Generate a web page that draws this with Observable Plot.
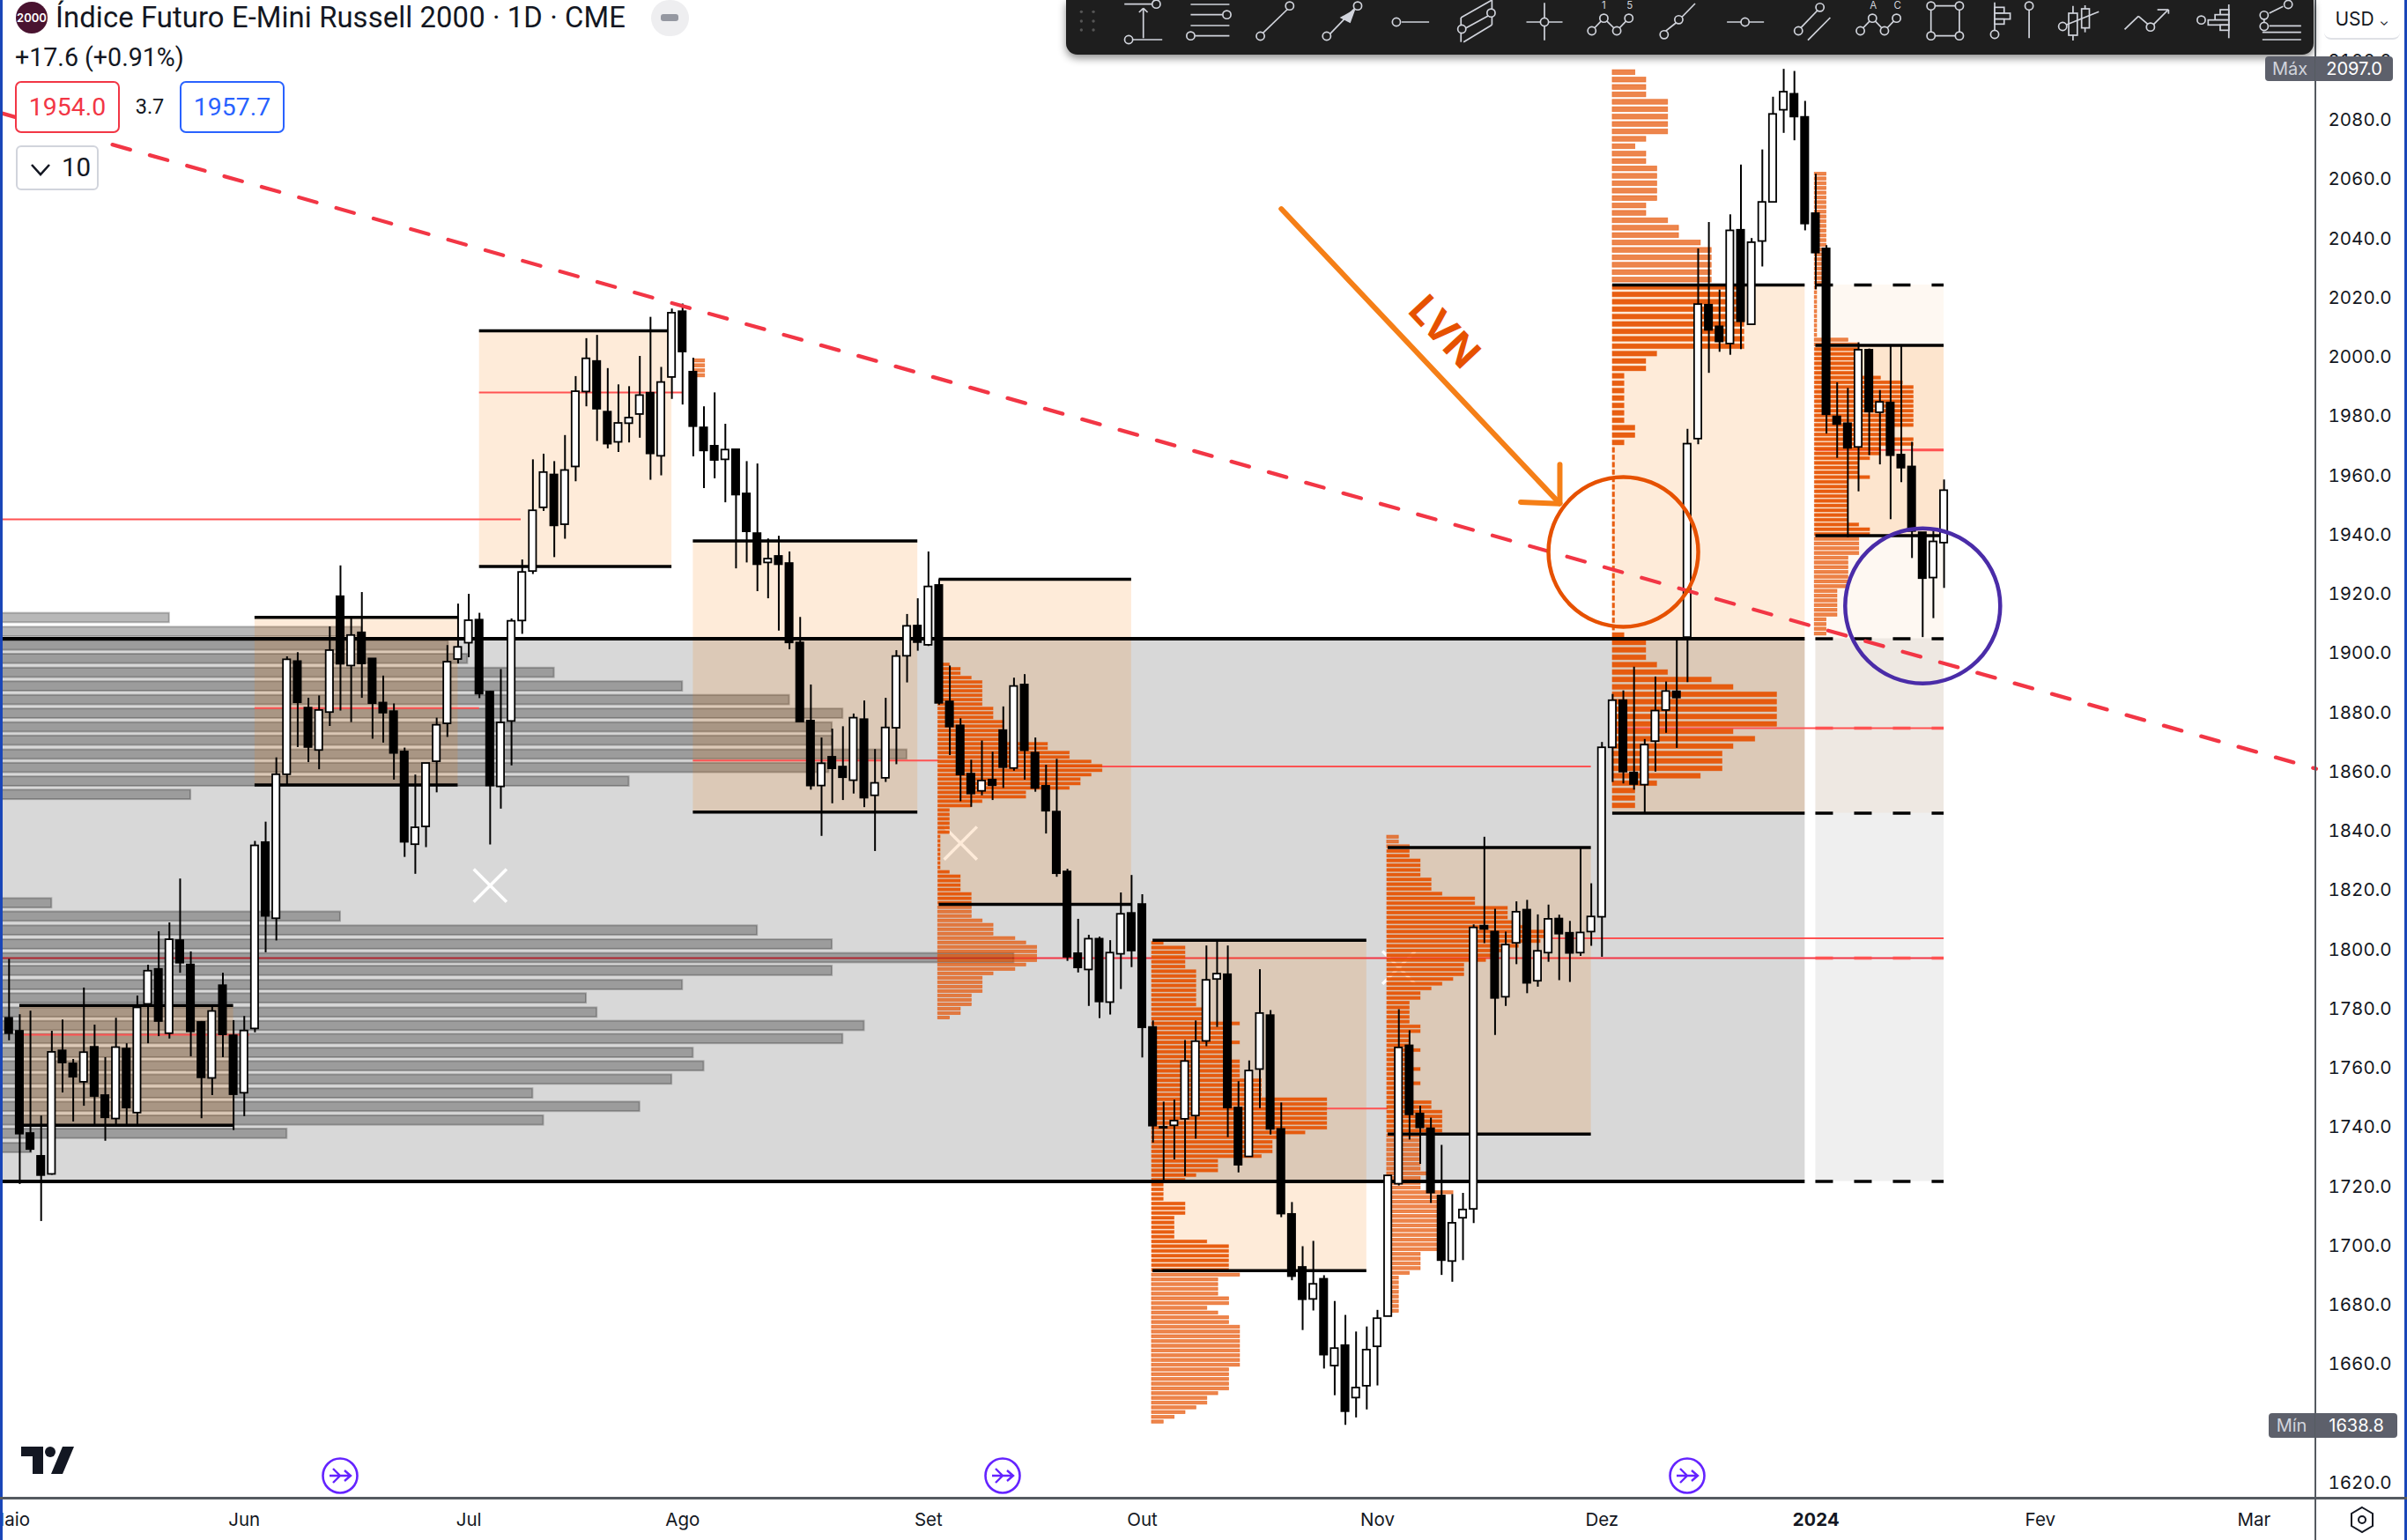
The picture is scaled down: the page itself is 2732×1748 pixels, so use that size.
<!DOCTYPE html>
<html><head><meta charset="utf-8">
<script src="https://cdn.jsdelivr.net/npm/d3@7"></script>
<script src="https://cdn.jsdelivr.net/npm/@observablehq/plot@0.6"></script>
<style>
html,body{margin:0;padding:0;background:#fff;overflow:hidden}
#page{position:relative;width:2732px;height:1748px;overflow:hidden;font-family:Inter,Roboto,sans-serif;color:#131722}
#chart svg{display:block;max-width:none}
.ov{position:absolute;white-space:nowrap}
</style></head><body><div id="page"><div id="chart"></div></div>
<script>
const bodyTop=[
1776.6,1772.2,1737.7,1730,1765.1,1765.6,1761.2,1765,1766.8,1750.5,
1766.7,1766.2,1780.1,1792.5,1793.1,1803.1,1802.8,1794.6,1775.2,1778.9,
1787.6,1770.7,1772.3,1834.8,1835.9,1858.8,1897.6,1897,1881.3,1880.5,
1900.7,1918.9,1905.8,1906.7,1897.9,1883,1880.1,1866.5,1840.9,1862.6,
1875.5,1896.8,1901.8,1910.8,1911,1886.7,1876.3,1910.6,1927.1,1947.9,
1960.8,1960,1961.5,1988.1,1999.2,1998.3,1981.2,1977.4,1979.2,1986.8,
1987.6,1991.2,2014.6,2015.1,1994.7,1975.9,1969.7,1968.4,1968.5,1953.6,
1940.2,1931.6,1932.5,1930.1,1903.3,1876.9,1862.5,1864.7,1861.4,1877.9,
1877.4,1855.9,1874.6,1898.7,1908.9,1909,1922.2,1922.7,1883.4,1875.3,
1859,1856.7,1857,1873.7,1888.6,1889.1,1866.1,1854.9,1846.2,1826,
1798.4,1803.3,1803.3,1798.6,1811.7,1812,1815,1773.5,1739.8,1741.9,
1762,1768.7,1789.4,1791.5,1791.3,1746.3,1758.8,1778.2,1777.5,1739.1,
1710.4,1692.5,1686.8,1688.5,1665.1,1666.1,1651.8,1664.6,1675.2,1723.4,
1766.6,1767.3,1744.3,1739.3,1716.6,1707.4,1711.9,1807.1,1807.7,1805.7,
1801.3,1812.4,1813.1,1799.2,1810,1810.1,1805.3,1805.4,1810.8,1867.9,
1883.8,1883.8,1859.4,1868.8,1880.3,1886.9,1886.8,1970.4,2017.5,2017.3,
2010,2042.4,2042.6,2038.4,2052,2081.7,2089.2,2088.5,2080.7,2048.2,
2036.3,1979.6,1977.3,2002.1,2002.1,1984.5,1984.3,1966.7,1962.7,1940.5,
1937.4,1954.7];
const bodyBottom=[
1771.4,1737.5,1732.3,1723.5,1723.9,1761.5,1756.7,1755,1750.2,1743,
1742.6,1746.3,1744.6,1781.3,1775.5,1771.4,1795.2,1772,1756.5,1756.3,
1771,1750.8,1751.3,1773,1811,1810.2,1858.8,1883.1,1868,1867,
1879.8,1896.1,1895.5,1896.2,1882.8,1879.6,1866,1836,1835.2,1841.2,
1863.2,1876,1897.7,1903.2,1886,1855,1854.7,1876.8,1910.7,1927.4,
1948.9,1942.8,1943.2,1962.7,1988,1982.2,1970.4,1971,1977.3,1980.4,
1967.1,1966.3,1992.9,2001.5,1976.3,1968.1,1964.9,1965.1,1953.2,1940.8,
1929.7,1930.3,1929.7,1903.3,1876.6,1855,1855,1860.8,1857.8,1856.8,
1850.9,1851.7,1857.6,1874.5,1898.8,1903.4,1902.5,1882.9,1874.9,1858.7,
1852.3,1853.2,1855.1,1861.2,1860.9,1866.9,1854.2,1846.5,1825.4,1797.2,
1793.6,1792.9,1782.1,1781.9,1798.2,1799.3,1773.4,1740.2,1739.5,1740.3,
1742.5,1743.6,1768.8,1789.7,1746.3,1727,1729.8,1759.3,1739.1,1710.5,
1689.4,1681.6,1681.7,1662.9,1659.2,1643.8,1648.4,1652.4,1665.7,1675.9,
1720.6,1744,1739.6,1717.6,1694.8,1694.5,1709.1,1712.1,1806.6,1783.3,
1783.7,1801.9,1788.4,1789.1,1798.6,1805,1798.5,1798.6,1805.7,1810.7,
1867.9,1859.7,1855.5,1855.3,1870,1880.5,1884.7,1905.1,1972.1,2008.8,
2004.9,2004.2,2011.7,2010.7,2038.8,2052,2083.1,2080.8,2044.7,2034.9,
1980.3,1977,1969,1969.3,1981.2,1981,1966.5,1962.3,1940.9,1925,
1925.2,1937];
const wickHigh=[
1796.5,1777.8,1779,1743.6,1772.2,1776,1762.7,1786.8,1774.3,1763.3,
1776.6,1768,1784.1,1794.5,1805.8,1808.8,1823.6,1799,1775.5,1780.3,
1791.8,1775.8,1777.2,1836.3,1842.8,1864.5,1898.6,1900,1884.6,1885.4,
1908.7,1929.3,1911.7,1920.3,1897.9,1892.1,1882.7,1867.8,1858.7,1862.6,
1877.9,1902.4,1916.4,1919.7,1913.3,1887,1894.3,1911.4,1931.3,1965.1,
1967,1964.5,1973.3,1993.2,2006,2007.1,1995.9,1990.4,1989.8,2000,
2013.2,1996.3,2016,2017.7,1999.4,1983,1987.7,1977.1,1968.5,1964.5,
1963.7,1938.4,1939.3,1934,1911.9,1889.1,1871.2,1874.2,1875,1879.3,
1883.7,1867.3,1884.6,1900.7,1912.9,1918.2,1934,1924.7,1895.5,1877.7,
1863.7,1870.2,1866.4,1881.7,1891.4,1892.6,1871.2,1862,1864,1826.9,
1810,1804.6,1804,1802.8,1818.9,1824.8,1818.3,1775.7,1748.3,1749,
1769.1,1775.7,1801,1802.9,1801,1755.2,1762.2,1793,1779.2,1748,
1714.4,1699.5,1701.3,1689.7,1681,1676.3,1670.7,1672.4,1678,1723.4,
1779.5,1772.4,1746.9,1742.9,1733.7,1717.1,1717.5,1808.1,1837.7,1813.4,
1805.7,1815.9,1816.4,1811.5,1814.8,1811.4,1809.3,1834,1822,1869.7,
1885.9,1887.1,1895.1,1870.7,1891.8,1890.1,1904.6,1975.4,2036.3,2045.2,
2022.4,2047.8,2064.6,2039.8,2069.7,2087.5,2096.9,2096.2,2086.1,2061.5,
2037.4,1991.1,1989.2,2004.6,2002.5,1988.5,2003.3,2003.3,1971,1940.5,
1940.9,1958.3];
const wickLow=[
1769,1720.5,1731.3,1708,1723.6,1751.4,1741.6,1746.9,1739.9,1735.1,
1740.5,1739.9,1740,1768,1770.4,1769.6,1791.8,1763.6,1742.7,1750.5,
1763.3,1738.7,1743.4,1771.7,1798.7,1802.7,1855.4,1868,1862.9,1860.5,
1875.1,1880.3,1876.4,1884.6,1870.8,1869.5,1857,1830.9,1825.2,1834.2,
1852.7,1871.4,1896.2,1898.3,1884.5,1835.1,1847.2,1861.8,1906.2,1926.4,
1947.7,1932.1,1938.3,1957.7,1983,1971.3,1968.8,1967.6,1970.8,1972.4,
1958.2,1959.7,1985.5,1983.6,1966.1,1955.4,1958.7,1950.6,1928.3,1930.3,
1920.6,1918.2,1907.3,1901,1876.6,1853.6,1838,1849,1850.1,1852.3,
1847.7,1832.9,1856.2,1862.2,1889.8,1900.5,1902.1,1882.3,1865.3,1849.7,
1847.8,1851.7,1850.1,1854.2,1860,1857,1852.9,1838.8,1824.2,1795.8,
1791.9,1780.6,1776.5,1777.7,1786.3,1793.7,1763.2,1734.5,1720.9,1728.8,
1723.2,1735.8,1767,1773.5,1736.3,1724.4,1729.8,1746.1,1737.2,1709.3,
1688,1671.2,1677.8,1658.2,1649.2,1639.2,1641.7,1644.4,1652.5,1675.9,
1720,1735.5,1727.3,1714.1,1689.8,1687.5,1694.8,1707.3,1801.8,1770.8,
1780.6,1794.7,1784.9,1787.1,1795.5,1789.3,1788.7,1797.5,1800.9,1797.2,
1856.2,1855.7,1853.6,1845.8,1859.7,1872.8,1867.7,1889.9,1970.2,1994.3,
2001.4,2000.4,2002.3,2010.7,2030.2,2052,2075.3,2072.8,2042.4,2022.5,
1973.8,1965.6,1938.8,1954.3,1966.5,1963.4,1944.9,1957.4,1931.8,1905.1,
1911.5,1921.7];
const whiteCandles=[4,7,10,12,13,15,19,22,23,25,26,29,30,32,38,39,40,41,42,43,46,47,48,49,50,52,53,54,57,58,59,61,62,67,71,76,79,81,82,83,84,86,91,94,101,103,104,109,110,111,112,113,116,117,122,124,126,127,128,129,130,135,136,137,140,141,143,144,147,148,149,150,153,154,155,157,158,161,163,164,165,166,173,175,180,181];

// value-area boxes
const boxName  =["F","G","A","B","C","D","E","H","I"];
const boxStart =[1,23,44,64,87,107,129,150,169];
const boxEnd   =[21,42,62,85,105,127,148,168,181];
const boxHigh  =[1780.9,1911.9,2008.6,1937.7,1924.8,1802.9,1834.2,2024.1,2003.7];
const boxLow   =[1740.5,1855.3,1929.1,1846.2,1815,1691.4,1737.5,1845.8,1939.5];

// points of control
const pocPrice=[1945,1987.8,1863.6,1861.6,1771,1881.3,1746.1,1803.6,1874.5,1968.4];
const pocStart=[-0.8,44,64,87,1,23,107,144,150,169];
const pocEnd  =[47.9,63,87,148,22.5,44,129,181,181,181];

// grey long-range volume profile (price of row, bar reached)
const greyPrice=[1911.7,1907,1902.4,1897.9,1893.2,1888.6,1884,1879.4,1874.8,1870.3,1865.6,1861.1,1856.5,1852,
1815.4,1810.9,1806.2,1801.5,1796.9,1792.6,1787.8,1783.3,1778.5,1774,1769.6,1764.9,1760.4,1755.9,1751.2,1746.7,1742.1,1737.6,1732.8];
const greyReach=[15,33,41.1,42.9,51,63,73,78,77,77,84,76.7,58,17,
4,31,70,77,94,77,63,54,55,80,78,64,65,62,49,59,50,26,2.1];

// orange session volume profiles
const vpB=[1,1,1,1];
const vpC=[1,2,2,3,4,4,4,4,4,4,5,5,5,6,6,6,6,6,10,10,12,12,14,15,15,14,13,13,12,8,8,4,3,1,1,1,1,1,1,.15,.15,.15,.15,.15,.15,.15,.15,1,2,2,2,2,3,3,3,3,3,3,4,5,5,5,7,8,9,9,9,9,8,7,5,4,4,4,4,3,3,3,2,2,1];
const vpD=[1,3,3,3,3,3,4,4,4,4,4,4,4,4,5,5,5,8,7,7,7,8,7,7,7,8,8,8,8,10,10,10,10,16,16,16,16,16,16,16,14,12,11,11,11,10,6,6,6,4,3,1,1,1,1,3,3,3,2,2,2,2,2,5,7,7,7,7,7,7,8,6,6,6,6,7,7,5,6,7,7,8,8,8,8,8,8,8,8,8,7,7,7,7,7,6,5,5,4,3,2,1];
const vpE=[1,1,2,2,2,3,3,3,3,4,4,4,5,8,8,11,11,11,12,13,15,15,14,12,11,10,9,7,7,7,6,5,4,3,3,2,2,2,2,2,3,3,2,2,2,3,2,2,2,3,2,2,3,2,2,2,4,4,5,5,5,5,5,3,3,3,3,3,3,3,3,4,3,3,3,6,5,5,5,5,5,5,5,5,5,5,5,5,3,3,3,3,2,1,1,1,1,1,1,1,1];
const vpH=[2,3,3,3,5,5,5,5,5,3,2,3,3,4,4,4,4,4,3,3,5,6,6,8,9,9,9,9,9,12,12,12,12,12,12,12,12,12,4,3,3,1,1,1,1,1,1,1,2,2,1,.14,.14,.14,.14,.14,.14,.14,.14,.14,.14,.14,.14,.14,.14,.14,.14,.14,.14,.14,.14,.14,.14,.14,.14,.14,1,3,3,3,4,5,9,11,15,15,15,15,15,11,13,11,10,10,10,8,4,2,2,2];
const vpI=[1,1,1,1,1,1,1,1,1,1,1,1,1,1,1,1,1,1,1,1,1,1,1,1,.14,.14,.14,.14,.14,.14,.14,.14,.14,.14,.14,3,4,4,4,4,4,4,4,6,8,9,9,9,9,9,9,9,9,9,7,7,9,9,6,6,5,4,4,4,5,3,3,3,3,3,3,3,3,3,4,5,5,4,4,4,4,3,3,3,3,3,3,3,2,2,2,2,2,2,1,1,1,1];

// axes
const priceTicks=[1620,1660,1680,1700,1720,1740,1760,1780,1800,1820,1840,1860,1880,1900,1920,1940,1960,1980,2000,2020,2040,2060,2080,2100];
const monthBars=[0,22,43,63,86,106,128,149,190,210];
const monthNames=["Maio","Jun","Jul","Ago","Set","Out","Nov","Dez","Fev","Mar"];
const yearBar=[169];

// drawings
const trendBars=[-0.8,215.8], trendPrices=[2082.2,1860.8];
const arrowBars=[119,145.06], arrowPrices=[2049.8,1950.3];
const headBars=[145.06,145.06,141.4], headPrices=[1963.5,1950.3,1950.8];
const crossBars=[45,89,130], crossPrices=[1821.4,1835.7,1793.7];

const BAR0=-0.8076, BAR1=215.69, PRICE_TOP=2120.15, PRICE_BOTTOM=1614.6;
const candles=bodyTop.map((t,i)=>({i,t,b:bodyBottom[i],h:wickHigh[i],l:wickLow[i],up:whiteCandles.includes(i)}));
const boxes=boxName.map((n,k)=>({n,s:boxStart[k],e:boxEnd[k],hi:boxHigh[k],lo:boxLow[k]}));
const pocs=pocPrice.map((p,k)=>({p,s:pocStart[k],e:pocEnd[k]}));
const greyRows=greyPrice.map((p,k)=>({p,r:greyReach[k]}));
const orangeRows=[
 {v:vpB,s:64,top:1998.5,st:1.67,hi:0,lo:0},
 {v:vpC,s:86.9,top:1895.9,st:1.49,hi:1924.8,lo:1815},
 {v:vpD,s:106.9,top:1801.9,st:1.6,hi:1802.9,lo:1691.4},
 {v:vpE,s:128.9,top:1837.7,st:1.6,hi:1834.2,lo:1737.5},
 {v:vpH,s:150,top:2095.8,st:2.5,hi:2024.1,lo:1845.8},
 {v:vpI,s:168.9,top:2061.5,st:1.6,hi:2003.7,lo:1939.5}
].flatMap(P=>P.v.map((v,k)=>{const p=P.top-k*P.st;return {p,x1:P.s,x2:P.s+v*1.02+.08,h:P.st*.33,va:p<=P.hi&&p>=P.lo}}));
const orng="#e65100";
const rowOpts=o=>({x1:"x1",x2:"x2",y1:d=>d.p-d.h,y2:d=>d.p+d.h,fill:orng,...o});
const pts=(xs,ys)=>xs.map((x,k)=>({x,y:ys[k]}));

const chart=Plot.plot({
 width:2732,height:1748,marginLeft:0,marginRight:105,marginTop:0,marginBottom:48,
 style:{fontFamily:"Inter,sans-serif",background:"#fff",maxWidth:"none",color:"#131722"},
 x:{type:"linear",domain:[BAR0,BAR1]},
 y:{type:"linear",domain:[PRICE_BOTTOM,PRICE_TOP]},
 marks:[
  // grey composite band and its light extension
  Plot.rect([0],{x1:BAR0,x2:168,y1:1904.7,y2:1721.5,fill:"#d8d8d8"}),
  Plot.rect([0],{x1:169,x2:181,y1:1904.7,y2:1721.5,fill:"#d8d8d8",fillOpacity:.4}),
  Plot.dot(pts(crossBars,crossPrices),{x:"x",y:"y",symbol:"times",r:17,stroke:"#fff",strokeWidth:3.5}),
  Plot.ruleY([1796.9],{x1:BAR0,x2:181,stroke:"#f23645",strokeWidth:2}),
  Plot.rect(greyRows,{x1:BAR0,x2:"r",y1:d=>d.p-1.6,y2:d=>d.p+1.6,fill:"#000",fillOpacity:.28,stroke:"#000",strokeOpacity:.24,strokeWidth:2}),
  // value-area boxes
  Plot.rect(boxes.filter(b=>b.n!="I"),{x1:"s",x2:"e",y1:"hi",y2:"lo",fill:"#f57c00",fillOpacity:.15}),
  Plot.rect([0],{x1:169,x2:181,y1:2024.1,y2:1845.8,fill:"#f57c00",fillOpacity:.05}),
  Plot.rect(boxes.filter(b=>b.n=="I"),{x1:"s",x2:"e",y1:"hi",y2:"lo",fill:"#f57c00",fillOpacity:.15}),
  Plot.ruleY(pocs,{y:"p",x1:"s",x2:"e",stroke:"#ff5252",strokeWidth:2}),
  Plot.ruleY([1968.4],{x1:178,x2:181,stroke:"#ff5252",strokeWidth:3}),
  Plot.ruleY([1796.9,1874.5],{x1:169,x2:181,stroke:"#ff5252",strokeWidth:3.5,strokeDasharray:"20,24"}),
  // orange profiles
  Plot.rect(orangeRows.filter(d=>!d.va),rowOpts({fillOpacity:.7,stroke:orng,strokeOpacity:.6,strokeWidth:.8})),
  Plot.rect(orangeRows.filter(d=>d.va),rowOpts({fillOpacity:.92,stroke:orng,strokeOpacity:.5,strokeWidth:.7})),
  // level lines
  Plot.ruleY(boxes,{y:"hi",x1:"s",x2:"e",stroke:"#000",strokeWidth:3.5}),
  Plot.ruleY(boxes,{y:"lo",x1:"s",x2:"e",stroke:"#000",strokeWidth:3.5}),
  Plot.ruleY([1904.7,1721.5],{x1:BAR0,x2:168,stroke:"#000",strokeWidth:4}),
  Plot.ruleY([2024.1,1904.7,1845.8,1721.5],{x1:169,x2:181,stroke:"#000",strokeWidth:3.5,strokeDasharray:"20,24"}),
  // candles
  Plot.ruleX(candles,{x:"i",y1:"l",y2:"h",stroke:"#000",strokeWidth:2}),
  Plot.rect(candles.filter(d=>!d.up),{x1:d=>d.i-.34,x2:d=>d.i+.34,y1:"b",y2:"t",fill:"#000",stroke:"#000",strokeWidth:1.8}),
  Plot.rect(candles.filter(d=>d.up),{x1:d=>d.i-.34,x2:d=>d.i+.34,y1:"b",y2:"t",fill:"#fff",stroke:"#000",strokeWidth:1.8}),
  // drawings
  Plot.line(pts(trendBars,trendPrices),{x:"x",y:"y",stroke:"#f23645",strokeWidth:4.3,strokeDasharray:"21,23"}),
  Plot.dot([{x:151,y:1934}],{x:"x",y:"y",r:85,stroke:orng,strokeWidth:4.5,fill:"none"}),
  Plot.dot([{x:179,y:1915.8}],{x:"x",y:"y",r:88,stroke:"#4a2ca8",strokeWidth:4.5,fill:"none"}),
  Plot.line(pts(arrowBars,arrowPrices),{x:"x",y:"y",stroke:"#f57f17",strokeWidth:6,strokeLinecap:"round"}),
  Plot.line(pts(headBars,headPrices),{x:"x",y:"y",stroke:"#f57f17",strokeWidth:6,strokeLinecap:"round",strokeLinejoin:"miter"}),
  Plot.text(["LVN"],{x:134.2,y:2008.1,rotate:47,fontSize:46,fontWeight:700,fill:orng,fontFamily:"Inter"}),
  // axes
  Plot.axisY(priceTicks,{anchor:"right",tickSize:0,tickPadding:15,label:null,fontSize:20.5,dy:1,tickFormat:d=>d.toFixed(1),fill:"#131722"}),
  Plot.axisX(monthBars,{anchor:"bottom",tickSize:0,tickPadding:17,label:null,fontSize:20.5,tickFormat:d=>monthNames[monthBars.indexOf(d)],fill:"#131722"}),
  Plot.axisX(yearBar,{anchor:"bottom",tickSize:0,tickPadding:17,label:null,fontSize:20.5,fontWeight:700,tickFormat:()=>"2024",fill:"#131722"})
 ]});
document.getElementById("chart").appendChild(chart);

// ---- interface furniture laid over the chart ----
const page=document.getElementById("page");
function div(css,html=""){const d=document.createElement("div");d.className="ov";d.style.cssText=css;d.innerHTML=html;page.appendChild(d);return d}
div("left:0;top:0;width:3px;height:1748px;background:#1a46b8");
div("right:0;top:0;width:3px;height:1748px;background:#1a46b8");
div("left:2627px;top:0;width:2px;height:1748px;background:#555a60");
div("left:0;top:1699px;width:2732px;height:3px;background:#555a60");
div("left:17px;top:92px;width:106px;height:125px;background:#fff");
div("left:18px;top:2px;width:36px;height:36px;border-radius:50%;background:#4a1330;color:#fff;font-size:13px;font-weight:600;line-height:36px;text-align:center","2000");
div("left:63px;top:1px;font:400 32.8px/38px Roboto,sans-serif;letter-spacing:.1px","Índice Futuro E-Mini Russell 2000 · 1D · CME");
div("left:739px;top:0;width:43px;height:41px;border-radius:21px;background:#eeeef0");
div("left:750px;top:16px;width:20px;height:8px;border-radius:3px;background:#9598a1");
div("left:17px;top:50px;font:400 28.6px/30px Roboto,sans-serif","+17.6 (+0.91%)");
div("left:17px;top:92px;width:115px;height:55px;border:2px solid #f23645;border-radius:7px;background:#fff;color:#f23645;font:400 28.4px/55px Roboto,sans-serif;text-align:center","1954.0");
div("left:136px;top:92px;width:68px;height:59px;background:#fff;font:400 23.5px/59px Roboto,sans-serif;text-align:center","3.7");
div("left:204px;top:92px;width:115px;height:55px;border:2px solid #2962ff;border-radius:7px;background:#fff;color:#2962ff;font:400 28.4px/55px Roboto,sans-serif;text-align:center","1957.7");
div("left:18px;top:165px;width:90px;height:47px;border:2px solid #d1d4dc;border-radius:6px;background:#fff;font:400 29.5px/47px Roboto,sans-serif",
 '<svg width="26" height="16" style="position:absolute;left:14px;top:18px"><path d="M2 2 L12 13 L22 2" fill="none" stroke="#131722" stroke-width="2.6"/></svg><span style="position:absolute;left:50px">10</span>');

// drawing toolbar
const bar=div("left:1210px;top:0;width:1416px;height:62px;background:#1e1e1e;border-radius:0 0 13px 13px;box-shadow:0 4px 10px rgba(0,0,0,.45)");
const X=z=>1200+z/1.0235, Y=z=>z/3;
const L=(a,b,c,d)=>`<line x1="${X(a)}" y1="${Y(b)}" x2="${X(c)}" y2="${Y(d)}"/>`;
const C=(a,b)=>`<circle cx="${X(a)}" cy="${Y(b)}" r="4.6" fill="#1e1e1e"/>`;
const R=(a,b,c,d)=>`<rect x="${X(a)}" y="${Y(b)}" width="${X(c)-X(a)}" height="${Y(d)-Y(b)}" fill="#1e1e1e"/>`;
const T=(s,a,b)=>`<text x="${X(a)}" y="${Y(b)}" fill="#d1d4dc" stroke="none" font-size="11.5" text-anchor="middle" dominant-baseline="middle">${s}</text>`;
const zig=(a,b,c,d)=>L(a,105,b,62)+L(b,62,c,105)+L(c,105,d,62)+C(a,105)+C(b,62)+C(c,105)+C(d,62);
const icons=[
 L(78,14,112,14),C(115,14),L(100,30,100,130),L(95,42,100,28),L(105,42,100,28),C(83,135),L(88,135,122,135),
 L(155,15,200,15),L(155,50,192,50),C(197,50),L(155,87,200,87),C(155,122),L(160,122,200,122),
 L(268,30,238,115),C(270,20),C(236,123),
 L(345,30,317,115),C(349,20),C(313,123),`<polygon points="${X(345)},${Y(35)} ${X(330)},${Y(60)} ${X(340)},${Y(75)}" fill="#d1d4dc"/>`,
 L(400,75,432,75),C(394,75),
 L(469,60,505,0),L(472,100,502,52),L(472,143,505,85),L(469,60,469,143),L(505,0,505,85),C(504,44),C(470,99),
 L(566,10,566,137),L(545,75,587,75),C(566,75),
 T("1",635,21),T("5",665,21),zig(621,635,650,664),
 L(705,110,720,75),L(725,60,741,12),C(722,67),C(705,118),
 L(778,75,821,75),C(799,75),
 L(884,33,863,97),L(898,60,872,137),C(886,25),C(861,105),
 T("A",948,21),T("C",976,21),zig(933,947,961,975),
 L(1015,20,1048,20),L(1015,20,1015,122),L(1048,20,1048,122),L(1015,122,1048,122),C(1015,20),C(1048,20),C(1015,122),C(1048,122),
 L(1089,8,1089,108),R(1089,25,1100,45),R(1089,45,1107,65),R(1089,65,1100,82),C(1089,117),L(1129,30,1129,130),C(1129,20),
 L(1180,20,1180,138),R(1175,45,1185,120),L(1194,18,1194,110),R(1190,30,1199,95),L(1172,85,1210,40),C(1168,90),
 L(1240,100,1256,55),L(1256,55,1268,85),L(1273,85,1290,35),L(1278,33,1291,33),L(1291,33,1291,47),C(1270,92),
 L(1361,15,1361,130),R(1351,33,1361,50),R(1345,50,1361,68),R(1337,68,1361,85),R(1351,85,1361,103),C(1329,68),
 L(1408,45,1424,22),L(1402,60,1402,82),L(1408,88,1445,88),L(1400,110,1445,110),L(1400,135,1445,135),C(1430,15),C(1402,52),C(1402,90)
].join("");
const dots=[[28,40],[42,40],[28,72],[42,72],[28,102],[42,102]].map(([a,b])=>`<circle cx="${X(a)}" cy="${Y(b)}" r="1.7" fill="#555"/>`).join("");
div("left:0;top:0;width:2732px;height:70px;pointer-events:none",`<svg width="2732" height="70" style="overflow:visible"><g stroke="#d1d4dc" stroke-width="1.7" fill="none">${icons}</g>${dots}</svg>`);

// price scale furniture
div("left:2638px;top:0;width:86px;height:43px;background:#fff;border-bottom:2px solid #dfe1e6;border-radius:0 0 8px 8px;font:400 21px/43px Inter,sans-serif;text-align:center",'USD <span style="font-size:14px">⌄</span>');
function flag(a,b,top,left,w1,w2){
 div(`left:${left}px;top:${top}px;width:${w1}px;height:28px;background:#5d606b;border-radius:4px 0 0 4px;color:#d1d4dc;font:400 20px/28px Inter,sans-serif;text-align:center`,a);
 div(`left:${left+w1+1}px;top:${top}px;width:${w2}px;height:28px;background:#5d606b;border-radius:0 4px 4px 0;color:#fff;font:400 20px/28px Inter,sans-serif;text-align:center`,b);
}
flag("Máx","2097.0",64,2571,56,88);
flag("Mín","1638.8",1604,2575,52,93);

// session-break icons, logo and settings hexagon
const mk=x=>`<g transform="translate(${x},1675)"><circle r="19.5" fill="#fff" stroke="#6423ff" stroke-width="2.6"/><path d="M-8 -8 L0 0 L-8 8 M-12 0 H11 M5 -6 L12 0 L5 6" fill="none" stroke="#6423ff" stroke-width="2.4"/></g>`;
div("left:0;top:0;width:2732px;height:1748px;pointer-events:none",
 `<svg width="2732" height="1748">${mk(386)}${mk(1138)}${mk(1915)}
 <g fill="#131722"><path d="M24 1642h25v31h-12v-20h-13z"/><circle cx="57" cy="1648" r="6"/><path d="M71 1642h13l-13 31h-13z"/></g>
 <g transform="translate(2681,1725)" fill="none" stroke="#131722" stroke-width="2"><path d="M0 -14 L12 -7 V7 L0 14 L-12 7 V-7 Z"/><circle r="4"/></g></svg>`);
</script></body></html>
